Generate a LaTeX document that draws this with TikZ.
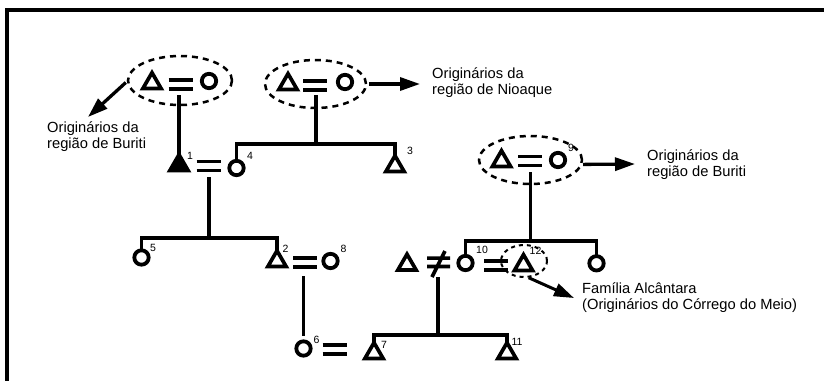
\documentclass[tikz,border=0pt]{standalone}
\usepackage{fontspec}
\setmainfont{Liberation Sans}
\usetikzlibrary{shapes.geometric,arrows.meta}
\begin{document}
\begin{tikzpicture}[x=1pt,y=-1pt,line join=miter,
  ln/.style={line width=3.5pt},
  tri/.style={regular polygon, regular polygon sides=3, minimum size=21pt, inner sep=0pt, outer sep=0pt, draw, line width=3.7pt},
  ftri/.style={tri, fill=black},
  circ/.style={circle, minimum size=14.4pt, inner sep=0pt, outer sep=0pt, draw, line width=3.8pt},
  bar/.style={line width=3.6pt},
  grp/.style={ellipse, draw, dash pattern=on 6pt off 5pt, line width=2.5pt, inner sep=0pt, outer sep=0pt},
  arr/.style={line width=3.3pt, -{Triangle[length=20pt,width=13pt]}},
  txt/.style={anchor=base west, inner sep=0pt, font=\fontsize{14.7}{16}\selectfont},
  num/.style={inner sep=0pt, font=\fontsize{10.5}{12}\selectfont},
  eq/.pic={\draw[bar] (-12,-4.5) -- (12,-4.5) (-12,4.5) -- (12,4.5);},
  neq/.pic={\draw[bar] (-11.5,-4.2) -- (11.5,-4.2) (-11.5,4.2) -- (11.5,4.2) (6.5,-11.3) -- (-6.5,14.7);}
]
\useasboundingbox (0,0) rectangle (824,380);
% frame
\draw[line width=4pt] (7.2,395) -- (7.2,10.3) -- (840,10.3);

% top-left couple (Buriti)
\node[tri] (a1) at (152,83.2) {};
\node[circ] (a2) at (209,81) {};
\pic at (180.5,84.75) {eq};
\node[grp, minimum width=104pt, minimum height=49pt] (eA) at (180,80.5) {};
\coordinate (aA) at (88,117);
\draw[arr, shorten <=3pt] (eA.west) -- (aA);
\node[txt] (tA1) at (47,132.5) {Originários da};
\node[txt] (tA2) at (47,148.5) {região de Buriti};

% top-center couple (Nioaque)
\node[tri] (b1) at (288,84.2) {};
\node[circ] (b2) at (345,82) {};
\pic at (315,85.75) {eq};
\node[grp, minimum width=101pt, minimum height=48pt] (eB) at (315.5,84) {};
\coordinate (aB) at (420,84);
\draw[arr, shorten <=3pt] (eB.east) -- (aB);
\node[txt] (tB1) at (432,78.3) {Originários da};
\node[txt] (tB2) at (432,94.3) {região de Nioaque};

% generation 2
\node[ftri] (t1) at (179,165.2) {};
\node[circ] (c4) at (236.5,168) {};
\node[tri] (t3) at (395,166.2) {};
\pic at (208.5,166) {eq};
\node[num] (n1) at (190,156) {1};
\node[num] (n4) at (250,156) {4};
\node[num] (n3) at (410,150.5) {3};
\coordinate (dA) at (179,95);
\draw[ln] (dA) -- (t1.corner 1);
\coordinate (dB) at (316,95);
\coordinate (jB) at (316,144);
\draw[ln] (dB) -- (jB);
\draw[ln] (c4) |- (jB) -| (t3.corner 1);

% generation 3
\node[circ] (c5) at (141.5,257.5) {};
\node[tri] (t2) at (277,261.2) {};
\node[circ] (c8) at (330.5,261) {};
\pic at (305,262.5) {eq};
\node[num] (n5) at (153,247.5) {5};
\node[num] (n2) at (285.5,248.5) {2};
\node[num] (n8) at (343.5,248.5) {8};
\coordinate (d14) at (209,177);
\coordinate (j14) at (209,238);
\draw[ln] (d14) -- (j14);
\draw[ln] (c5) |- (j14) -| (t2.corner 1);

% generation 4
\node[circ] (c6) at (303.5,348.5) {};
\node[num] (n6) at (316.5,339.5) {6};
\coordinate (d28) at (303.5,276);
\draw[ln, shorten >=5pt] (d28) -- (c6);
\pic at (334.5,349.5) {eq};
\node[tri] (t7) at (374,353.2) {};
\node[tri] (t11) at (507,353.2) {};
\node[num] (n7) at (384,344.5) {7};
\node[num] (n11) at (517,341.7) {11};

% right couple (≠)
\node[tri] (tx) at (407,264.7) {};
\node[circ] (c10) at (465.5,263) {};
\pic at (438.5,262.3) {neq};
\node[num] (n10) at (482,250.3) {10};
\coordinate (dX) at (438,277);
\coordinate (jX) at (438,335);
\draw[ln] (dX) -- (jX);
\draw[ln] (t7.corner 1) |- (jX) -| (t11.corner 1);

% 10 = 12
\node[tri] (t12) at (523.5,265.2) {};
\node[num] (n12) at (535.5,251) {12};
\pic at (496,265.3) {eq};
\node[grp, minimum width=46pt, minimum height=32pt, line width=2pt, dash pattern=on 4pt off 4pt] (e12) at (524,261) {};
\coordinate (a12) at (574,298);
\draw[arr, line width=3pt, shorten <=2pt] (e12.-80) -- (a12);
\node[txt] (t121) at (582,293.5) {Família Alcântara};
\node[txt] (t122) at (582,309.5) {(Originários do Córrego do Meio)};
\node[circ] (cr) at (596.5,263.3) {};

% couple 9 (Buriti)
\node[tri] (t9) at (501.5,161.2) {};
\node[circ] (c9) at (558,160) {};
\pic at (530,161) {eq};
\node[num] (n9) at (571,147.5) {9};
\node[grp, minimum width=103pt, minimum height=48pt] (e9) at (530.5,160) {};
\coordinate (a9) at (635,164);
\draw[arr, shorten <=2pt] (e9.-5) -- (a9);
\node[txt] (t91) at (647,160) {Originários da};
\node[txt] (t92) at (647,176) {região de Buriti};
\coordinate (d9) at (530.5,172);
\coordinate (j9) at (530.5,241);
\draw[ln] (d9) -- (j9);
\draw[ln] (c10) |- (j9) -| (cr);
\end{tikzpicture}
\end{document}
